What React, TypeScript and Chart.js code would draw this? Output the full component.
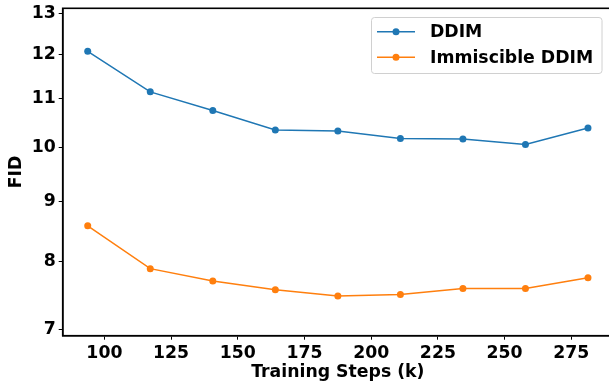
import React, { useEffect, useRef } from 'react';
import { Chart, registerables } from 'chart.js';

Chart.register(...registerables);

const steps = [93.75, 117.1875, 140.625, 164.0625, 187.5, 210.9375, 234.375, 257.8125, 281.25];
const ddim = [12.07, 11.15, 10.75, 10.35, 10.33, 10.18, 10.17, 10.06, 10.39];
const immiscible = [8.58, 7.89, 7.70, 7.57, 7.48, 7.50, 7.59, 7.59, 7.75];
const seriesLabels = ['DDIM', 'Immiscible DDIM'];
const seriesColors = ['#1f77b4', '#ff7f0e'];
const xTicks = [100, 125, 150, 175, 200, 225, 250, 275];
const yTicks = [7, 8, 9, 10, 11, 12, 13];

const FONT = "'DejaVu Sans', sans-serif";
const FS = 17.3;

const legendPlugin = {
  id: 'boxLegend',
  afterDraw(chart: any) {
    const ctx = chart.ctx;
    const bx = 371.5, by = 17.5, bw = 230.5, bh = 56;
    ctx.save();
    ctx.beginPath();
    const r = 3;
    ctx.moveTo(bx + r, by);
    ctx.lineTo(bx + bw - r, by);
    ctx.arcTo(bx + bw, by, bx + bw, by + r, r);
    ctx.lineTo(bx + bw, by + bh - r);
    ctx.arcTo(bx + bw, by + bh, bx + bw - r, by + bh, r);
    ctx.lineTo(bx + r, by + bh);
    ctx.arcTo(bx, by + bh, bx, by + bh - r, r);
    ctx.lineTo(bx, by + r);
    ctx.arcTo(bx, by, bx + r, by, r);
    ctx.closePath();
    ctx.fillStyle = 'rgba(255,255,255,0.8)';
    ctx.fill();
    ctx.strokeStyle = '#d0d0d0';
    ctx.lineWidth = 1;
    ctx.stroke();
    const rows = [31.7, 57.3];
    chart.data.datasets.forEach((ds: any, i: number) => {
      const y = rows[i];
      ctx.strokeStyle = ds.borderColor;
      ctx.lineWidth = 1.5;
      ctx.beginPath();
      ctx.moveTo(377, y);
      ctx.lineTo(415, y);
      ctx.stroke();
      ctx.fillStyle = ds.borderColor;
      ctx.beginPath();
      ctx.arc(396, y, 3.5, 0, Math.PI * 2);
      ctx.fill();
      ctx.fillStyle = '#000';
      ctx.font = `bold ${FS}px ${FONT}`;
      ctx.textBaseline = 'middle';
      ctx.textAlign = 'left';
      ctx.fillText(ds.label, 430, y + 1);
    });
    ctx.restore();
  },
};

const framePlugin = {
  id: 'frame',
  afterDatasetsDraw(chart: any) {
    const { ctx, chartArea } = chart;
    ctx.save();
    ctx.strokeStyle = '#000';
    ctx.lineWidth = 1.6;
    ctx.strokeRect(chartArea.left, chartArea.top, chartArea.right - chartArea.left, chartArea.bottom - chartArea.top);
    ctx.restore();
  },
};

export default function App() {
  const ref = useRef<HTMLCanvasElement>(null);
  useEffect(() => {
    document.body.style.margin = '0';
    const canvas = ref.current;
    if (!canvas) return;
    const datasets = [ddim, immiscible].map((vals, i) => ({
      label: seriesLabels[i],
      data: vals.map((v, j) => ({ x: steps[j], y: v })),
      borderColor: seriesColors[i],
      backgroundColor: seriesColors[i],
      borderWidth: 1.5,
      pointRadius: 3.5,
      pointHoverRadius: 3.5,
      pointBorderWidth: 0,
      tension: 0,
    }));
    const chart = new Chart(canvas, {
      type: 'line',
      data: { datasets },
      options: {
        responsive: false,
        animation: false,
        devicePixelRatio: 1,
        layout: { padding: { top: 8.3, right: 7, left: 0, bottom: 0 } },
        plugins: { legend: { display: false }, tooltip: { enabled: false } },
        scales: {
          x: {
            type: 'linear',
            min: 84.375,
            max: 290.625,
            afterBuildTicks: (s: any) => {
              s.ticks = xTicks.map((v) => ({ value: v }));
            },
            afterFit: (s: any) => {
              s.height = 48.3;
              s.paddingLeft = 0;
              s.paddingRight = 0;
            },
            ticks: {
              color: '#000',
              font: { family: FONT, size: FS, weight: 'bold' },
              padding: 3,
              maxRotation: 0,
              autoSkip: false,
              callback: (v: any) => String(v),
            },
            grid: { drawOnChartArea: false, drawTicks: true, tickLength: 4, color: '#000', lineWidth: 1 },
            border: { display: true, color: '#000', width: 1.6 },
            title: {
              display: true,
              text: 'Training Steps (k)',
              color: '#000',
              font: { family: FONT, size: FS, weight: 'bold' },
              padding: { top: 0, bottom: 1 },
            },
          },
          y: {
            type: 'logarithmic',
            min: 6.92,
            max: 13.13,
            afterBuildTicks: (s: any) => {
              s.ticks = yTicks.map((v) => ({ value: v }));
            },
            afterFit: (s: any) => {
              s.width = 62.7;
              s.paddingTop = 0;
              s.paddingBottom = 0;
            },
            ticks: {
              color: '#000',
              font: { family: FONT, size: FS, weight: 'bold' },
              padding: 3,
              autoSkip: false,
              callback: (v: any) => String(v),
            },
            grid: { drawOnChartArea: false, drawTicks: true, tickLength: 4, color: '#000', lineWidth: 1 },
            border: { display: true, color: '#000', width: 1.6 },
            title: {
              display: true,
              text: 'FID',
              color: '#000',
              font: { family: FONT, size: FS, weight: 'bold' },
              padding: { top: 6.5, bottom: 0 },
            },
          },
        },
      } as any,
      plugins: [framePlugin, legendPlugin],
    });
    return () => chart.destroy();
  }, []);
  return (
    <div style={{ width: 609, height: 384, overflow: 'hidden', background: '#fff' }}>
      <canvas ref={ref} width={620} height={384} style={{ display: 'block' }} />
    </div>
  );
}
